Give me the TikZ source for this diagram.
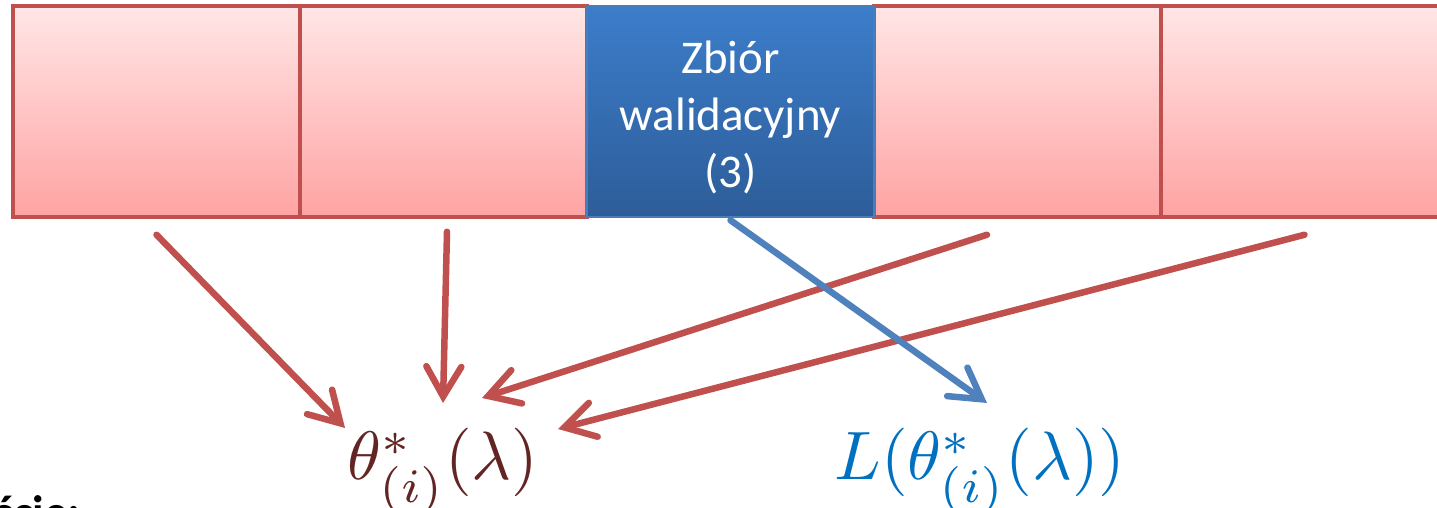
\documentclass[tikz,border=0pt]{standalone}
\usepackage{fontspec}
\setsansfont{Carlito}
\usepackage{graphicx}
\usepackage{tikz}
\usetikzlibrary{arrows.meta,positioning,calc}
\usepackage{xcolor}

\definecolor{foldedge}{HTML}{C0504D}
\definecolor{foldtop}{HTML}{FFE6E6}
\definecolor{foldbot}{HTML}{FFA3A3}
\definecolor{validedge}{HTML}{4A7EBB}
\definecolor{validtop}{HTML}{3C7DCA}
\definecolor{validbot}{HTML}{2D5D99}
\definecolor{arrred}{HTML}{C0504D}
\definecolor{arrblue}{HTML}{4F81BD}
\definecolor{thetacol}{HTML}{632523}
\definecolor{losscol}{HTML}{0070C0}

\newcommand{\bigexpr}[1]{\scalebox{3.9}{$#1$}}

\begin{document}
\begin{tikzpicture}[
    fold/.style={rectangle, draw=foldedge, line width=2pt, minimum width=5.74cm, minimum height=4.22cm,
        inner sep=0pt, top color=foldtop, bottom color=foldbot},
    valid/.style={fold, draw=validedge, line width=0.9pt, top color=validtop, bottom color=validbot,
        text=white, align=center, font=\sffamily\fontsize{26.7}{32.4}\selectfont},
    expr/.style={anchor=base, inner sep=0pt},
    arr/.style={-{Straight Barb[length=6mm, width=7mm, line cap=round]}, line width=3.7pt, line cap=round, draw=arrred},
    arrb/.style={arr, draw=arrblue}
]
\clip (0,0) rectangle (28.74,10.16);

% Row 1: the five folds
\node[fold] (fold1) at (3.13, 7.93) {};
\node[fold] (fold2) at (8.87, 7.93) {};
\node[fold] (fold4) at (20.35, 7.93) {};
\node[fold] (fold5) at (26.09, 7.93) {};
\node[valid] (fold3) at (14.61, 7.93) {\rule{0pt}{25pt}Zbiór\\walidacyjny\\(3)};

% Row 2: estimates
\node[expr, text=thetacol] (theta) at (8.86, 0.56) {\bigexpr{\theta^*_{(i)}(\lambda)}};
\node[expr, text=losscol] (loss) at (19.60, 0.56) {\bigexpr{L(\theta^*_{(i)}(\lambda))}};

% cut-off text at the bottom edge
\node[anchor=base west, inner sep=0pt, font=\sffamily\bfseries\fontsize{26.7}{32.4}\selectfont] (cut) at (-0.12, -0.42) {ście:};

% -- Arrows --
\draw[arr] ([yshift=-0.32cm]fold1.south) -- ([xshift=-1.96cm, yshift=1.04cm]theta.base);
\draw[arr] ([xshift=0.07cm, yshift=-0.26cm]fold2.south) -- ([yshift=1.54cm]theta.base);
\draw[arr] ([xshift=-0.61cm, yshift=-0.32cm]fold4.south) -- ([xshift=0.78cm, yshift=1.64cm]theta.base);
\draw[arr] ([yshift=-0.32cm]fold5.south) -- ([xshift=2.30cm, yshift=1.02cm]theta.base);
\draw[arrb] ([yshift=-0.05cm]fold3.south) -- ([xshift=0.14cm, yshift=1.54cm]loss.base);

\end{tikzpicture}
\end{document}
